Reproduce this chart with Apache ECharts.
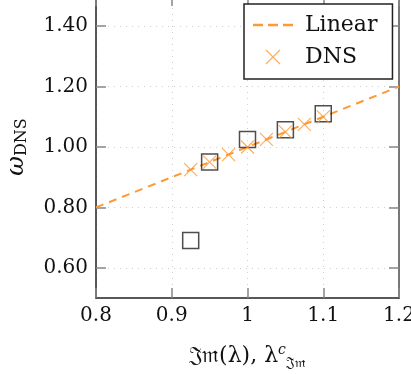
<!DOCTYPE html>
<html>
<head>
<meta charset="utf-8">
<script src="https://cdn.jsdelivr.net/npm/echarts@6/dist/echarts.min.js"></script>
<style>
  html, body { margin: 0; padding: 0; background: #fff; }
  #chart { width: 411px; height: 374px; }
</style>
</head>
<body>
<div id="chart"></div>
<script>
// reference line (linear fit)
const linearX = [0.8, 1.2];
const linearY = [0.8, 1.2];
// DNS points (orange crosses)
const dnsX = [0.925, 0.95, 0.975, 1.0, 1.025, 1.05, 1.075, 1.1];
const dnsY = [0.925, 0.95, 0.975, 1.0, 1.025, 1.05, 1.075, 1.1];
// critical values (black squares)
const critX = [0.925, 0.95, 1.0, 1.05, 1.1];
const critY = [0.69, 0.95, 1.025, 1.057, 1.11];
// tick labels
const xTicks = [0.8, 0.9, 1.0, 1.1, 1.2];
const yTicks = [0.6, 0.8, 1.0, 1.2, 1.4];

const orange = "#ff9933";
const serif = "DejaVu Serif";
const crossPath = "path://M0,0L10,10M10,0L0,10";
const dashPath = "path://M0,0H10V2.4H0Z M15,0H25V2.4H15Z M30,0H40V2.4H30Z";

const chart = echarts.init(document.getElementById("chart"));

const option = {
    backgroundColor: "#fff",
    animation: false,
    textStyle: { fontFamily: serif },
    grid: { left: 96, right: 12, top: -4, bottom: 76, outerBoundsMode: "none" },
    legend: {
        orient: "vertical",
        left: 244,
        top: 4,
        padding: [7, 15, 8, 9],
        itemGap: 4,
        itemWidth: 40,
        itemHeight: 14,
        backgroundColor: "#fff",
        borderColor: "#222",
        borderWidth: 1.5,
        borderRadius: 0,
        textStyle: { fontFamily: serif, fontSize: 22, lineHeight: 28, color: "#111", padding: [0, 0, 0, 7] },
        data: [
            { name: "Linear", icon: dashPath, itemStyle: { color: orange } },
            { name: "DNS", icon: crossPath, itemStyle: { color: "none", borderColor: orange, borderWidth: 1.2 } },
        ],
    },
    xAxis: [
        {
            type: "value",
            min: 0.8,
            max: 1.2,
            interval: 0.1,
            name: "{f|𝔍𝔪}(λ), λ{sup|c}{sub|𝔍𝔪}",
            nameLocation: "middle",
            nameGap: 44,
            nameTextStyle: {
                fontFamily: serif,
                fontSize: 22,
                color: "#111",
                rich: {
                    f: { fontFamily: serif, fontSize: 22, color: "#111" },
                    sup: { fontFamily: serif, fontSize: 14, fontStyle: "italic", color: "#111", padding: [0, 0, 12, 0] },
                    sub: { fontFamily: serif, fontSize: 14, color: "#111", padding: [14, 0, 0, 0] },
                },
            },
            axisLine: { onZero: false, lineStyle: { color: "#222", width: 1.5 } },
            axisTick: { inside: true, length: 10, lineStyle: { color: "#888", width: 1.5 } },
            axisLabel: {
                fontFamily: serif,
                fontSize: 20,
                color: "#111",
                margin: 8,
                formatter: (v) => String(parseFloat(v.toFixed(1))),
            },
            splitLine: { show: true, lineStyle: { color: "#cfcfcf", type: [1, 5], width: 1 } },
        },
        {
            type: "value",
            position: "top",
            min: 0.8,
            max: 1.2,
            interval: 0.1,
            axisLine: { onZero: false, lineStyle: { color: "#777", width: 2 } },
            axisTick: { inside: true, length: 10, lineStyle: { color: "#888", width: 1.5 } },
            axisLabel: { show: false },
            splitLine: { show: false },
        },
    ],
    yAxis: [
        {
            type: "value",
            min: 0.5,
            max: 1.5,
            name: "{w|ω}{s|DNS}",
            nameLocation: "middle",
            nameGap: 66,
            nameTextStyle: {
                rich: {
                    w: { fontFamily: serif, fontSize: 24, fontStyle: "italic", color: "#111" },
                    s: { fontFamily: serif, fontSize: 16, color: "#111", padding: [10, 0, 0, 0] },
                },
            },
            axisLine: { onZero: false, lineStyle: { color: "#222", width: 1.5 } },
            axisTick: { inside: true, length: 10, customValues: yTicks, lineStyle: { color: "#888", width: 1.5 } },
            axisLabel: {
                fontFamily: serif,
                fontSize: 20,
                color: "#111",
                margin: 8,
                customValues: yTicks,
                formatter: (v) => v.toFixed(2),
            },
            splitLine: { show: true, lineStyle: { color: "#cfcfcf", type: [1, 5], width: 1 } },
        },
        {
            type: "value",
            position: "right",
            min: 0.5,
            max: 1.5,
            axisLine: { onZero: false, lineStyle: { color: "#777", width: 2 } },
            axisTick: { inside: true, length: 10, customValues: yTicks, lineStyle: { color: "#888", width: 1.5 } },
            axisLabel: { show: false },
            splitLine: { show: false },
        },
    ],
    series: [
        {
            name: "Linear",
            type: "line",
            data: linearX.map((x, i) => [x, linearY[i]]),
            showSymbol: false,
            symbol: "none",
            lineStyle: { color: orange, width: 2, type: [8, 6] },
            itemStyle: { color: orange },
            z: 2,
        },
        {
            name: "Critical",
            type: "scatter",
            data: critX.map((x, i) => [x, critY[i]]),
            symbol: "rect",
            symbolSize: 16,
            itemStyle: { color: "none", borderColor: "#222", borderWidth: 1.5 },
            z: 3,
        },
        {
            name: "DNS",
            type: "scatter",
            data: dnsX.map((x, i) => [x, dnsY[i]]),
            symbol: crossPath,
            symbolSize: 13,
            itemStyle: { color: "none", borderColor: orange, borderWidth: 1.2 },
            z: 4,
        },
    ],
};

chart.setOption(option);
</script>
</body>
</html>
